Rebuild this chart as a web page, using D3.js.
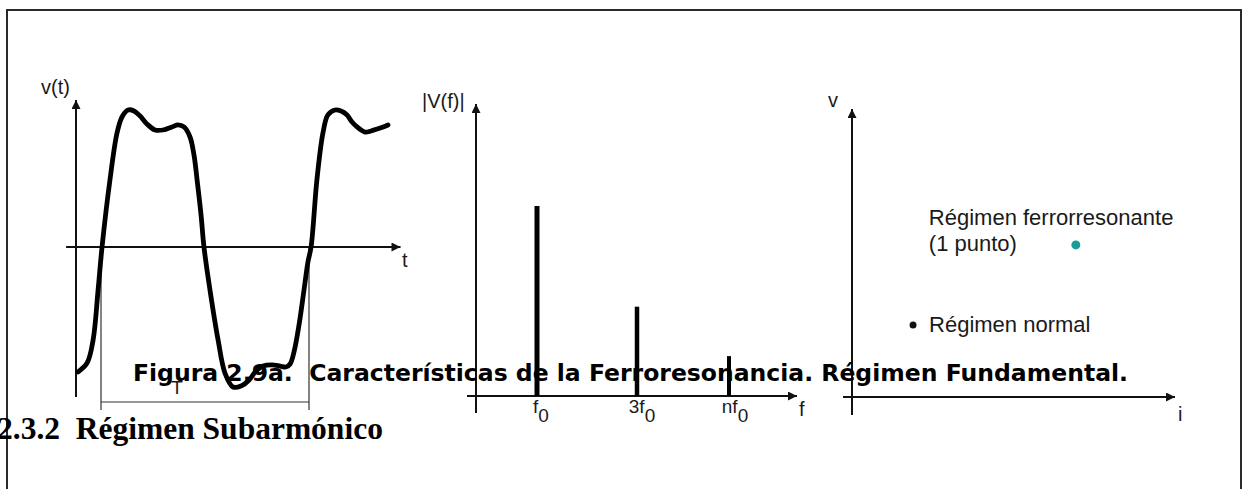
<!DOCTYPE html>
<html>
<head>
<meta charset="utf-8">
<script src="https://cdn.jsdelivr.net/npm/d3@7"></script>
<style>
  html, body { margin: 0; padding: 0; background: #fff; }
  svg { display: block; }
  .lbl { font-family: "Liberation Sans", Arial, sans-serif; fill: #1a1a1a; }
</style>
</head>
<body>
<script>
// Waveform v(t): time in periods (T = 1), voltage normalised to the first peak.
const waveT = [-0.111, -0.067, -0.038, -0.014, 0.005, 0.043, 0.077, 0.101, 0.130, 0.159,
  0.188, 0.221, 0.260, 0.298, 0.341, 0.370, 0.399, 0.428, 0.447, 0.462,
  0.481, 0.495, 0.524, 0.563, 0.596, 0.635, 0.673, 0.712, 0.745, 0.779,
  0.822, 0.861, 0.889, 0.909, 0.928, 0.952, 0.976, 0.995, 1.010, 1.038,
  1.067, 1.091, 1.125, 1.154, 1.183, 1.207, 1.231, 1.269, 1.298, 1.327,
  1.356, 1.380];
const waveV = [-0.912, -0.847, -0.679, -0.314, 0, 0.489, 0.832, 0.949, 1.0, 0.993,
  0.956, 0.898, 0.854, 0.854, 0.876, 0.891, 0.876, 0.803, 0.672, 0.489,
  0.234, 0, -0.314, -0.679, -0.920, -1.022, -1.015, -0.971, -0.905, -0.869,
  -0.861, -0.869, -0.876, -0.854, -0.766, -0.569, -0.314, -0.109, 0, 0.489,
  0.832, 0.964, 1.0, 0.993, 0.964, 0.912, 0.876, 0.839, 0.847, 0.861,
  0.876, 0.891];

// Spectrum |V(f)|: harmonic position (multiples of f0) and relative amplitude.
const specLabels = [['f', '0'], ['3f', '0'], ['nf', '0']];
const specFreq = [1, 3, 4.84];
const specAmp = [1, 0.47, 0.21];

// Operating points in the v-i plane.
const pointNames = ['normal', 'ferro'];
const pointI = [0.189, 0.693];
const pointV = [0.251, 0.530];
const pointColors = ['#111', '#1a9c9a'];

const caption = 'Figura 2.9a.\u00a0 Características de la Ferroresonancia. Régimen Fundamental.';
const heading = '2.3.2\u00a0 Régimen Subarmónico';

const width = 1242, height = 489;

let svg = d3.select('body').append('svg')
  .attr('width', width)
  .attr('height', height);

svg.append('defs').append('marker')
  .attr('id', 'arrow')
  .attr('viewBox', '0 0 10 10')
  .attr('refX', 10).attr('refY', 5)
  .attr('markerWidth', 14).attr('markerHeight', 9)
  .attr('markerUnits', 'userSpaceOnUse')
  .attr('orient', 'auto')
  .append('path')
    .attr('d', 'M0,0L10,5L0,10z')
    .attr('fill', '#111');

// page frame (top, left and right edges)
svg.append('path')
  .attr('d', 'M7,489V10H1241V489')
  .attr('fill', 'none')
  .attr('stroke', '#2a2a2a')
  .attr('stroke-width', 2);

function axisLine(x1, y1, x2, y2) {
  svg.append('line')
    .attr('x1', x1).attr('y1', y1).attr('x2', x2).attr('y2', y2)
    .attr('stroke', '#111')
    .attr('stroke-width', 2)
    .attr('marker-end', 'url(#arrow)');
}

function label(x, y, txt, size, anchor) {
  return svg.append('text')
    .attr('class', 'lbl')
    .attr('x', x).attr('y', y)
    .attr('font-size', size)
    .attr('text-anchor', anchor || 'start')
    .text(txt);
}

// ---- Left panel: time waveform ----
let xT = d3.scaleLinear().domain([0, 1]).range([101, 309]);
let yT = d3.scaleLinear().domain([-1, 1]).range([384, 110]);

axisLine(xT(-0.168), yT(0), xT(1.44), yT(0));
axisLine(76, 397, 76, 100);
label(41, 94, 'v(t)', 20);
label(402, 267, 't', 20);

// period bracket
svg.append('path')
  .attr('d', 'M' + xT(0) + ',' + yT(0) + 'V410M' + xT(1) + ',' + yT(0) + 'V410' +
    'M' + xT(0) + ',402H' + xT(1))
  .attr('fill', 'none')
  .attr('stroke', '#333')
  .attr('stroke-width', 1.2);
label(xT(0.366), 394, 'T', 19, 'middle');

let wave = waveT.map((t, i) => [t, waveV[i]]);
svg.append('path')
  .datum(wave)
  .attr('fill', 'none')
  .attr('stroke', '#000')
  .attr('stroke-width', 4.8)
  .attr('stroke-linejoin', 'round')
  .attr('stroke-linecap', 'round')
  .attr('d', d3.line()
    .x((d) => xT(d[0]))
    .y((d) => yT(d[1]))
    .curve(d3.curveCatmullRom.alpha(0.5)));

// ---- Middle panel: spectrum ----
let xF = d3.scaleLinear().domain([0, 1]).range([487, 537]);
let yF = d3.scaleLinear().domain([0, 1]).range([396, 206]);

axisLine(467, yF(0), 797, yF(0));
axisLine(476, 413, 476, 104);
label(422, 108, '|V(f)|', 20);
label(799, 416, 'f', 20);

svg.append('g')
  .selectAll('line')
  .data(specFreq)
  .enter().append('line')
    .attr('x1', (d) => xF(d)).attr('x2', (d) => xF(d))
    .attr('y1', yF(0))
    .attr('y2', (d, i) => yF(specAmp[i]))
    .attr('stroke', '#000')
    .attr('stroke-width', (d, i) => 5 - i * 0.5);

let ticks = svg.append('g')
  .selectAll('text')
  .data(specFreq)
  .enter().append('text')
    .attr('class', 'lbl')
    .attr('font-size', 19)
    .attr('text-anchor', 'middle')
    .attr('x', (d, i) => xF(d) + 4 + i)
    .attr('y', 413);
ticks.append('tspan').text((d, i) => specLabels[i][0]);
ticks.append('tspan').attr('dy', 9).text((d, i) => specLabels[i][1]);

// ---- Right panel: v-i plane ----
let xI = d3.scaleLinear().domain([0, 1]).range([852, 1175]);
let yV = d3.scaleLinear().domain([0, 1]).range([397, 110]);

axisLine(843, yV(0), 1175, yV(0));
axisLine(xI(0), 415, xI(0), 109);
label(828, 107, 'v', 20);
label(1178, 421, 'i', 20);

svg.append('g')
  .selectAll('circle')
  .data(pointI)
  .enter().append('circle')
    .attr('cx', (d) => xI(d))
    .attr('cy', (d, i) => yV(pointV[i]))
    .attr('r', (d, i) => i == 0 ? 3.5 : 4.5)
    .attr('fill', (d, i) => pointColors[i]);

let pN = [xI(pointI[0]), yV(pointV[0])];
let pF = [xI(pointI[1]), yV(pointV[1])];
label(pN[0] + 16, pN[1] + 7, 'Régimen normal', 22);
label(pF[0] - 147, pF[1] - 20, 'Régimen ferrorresonante', 22);
label(pF[0] - 147, pF[1] + 6, '(1 punto)', 22);

// ---- figure caption and section heading (on top of the plots) ----
svg.append('text')
  .attr('x', 133).attr('y', 381)
  .attr('font-family', '"DejaVu Sans", Verdana, sans-serif')
  .attr('font-weight', 'bold')
  .attr('font-size', 23)
  .attr('textLength', 995)
  .attr('lengthAdjust', 'spacingAndGlyphs')
  .attr('fill', '#000')
  .text(caption);

svg.append('text')
  .attr('x', -3).attr('y', 439)
  .attr('font-family', '"Liberation Serif", "Times New Roman", serif')
  .attr('font-weight', 'bold')
  .attr('font-size', 31.5)
  .attr('fill', '#000')
  .text(heading);
</script>
</body>
</html>
